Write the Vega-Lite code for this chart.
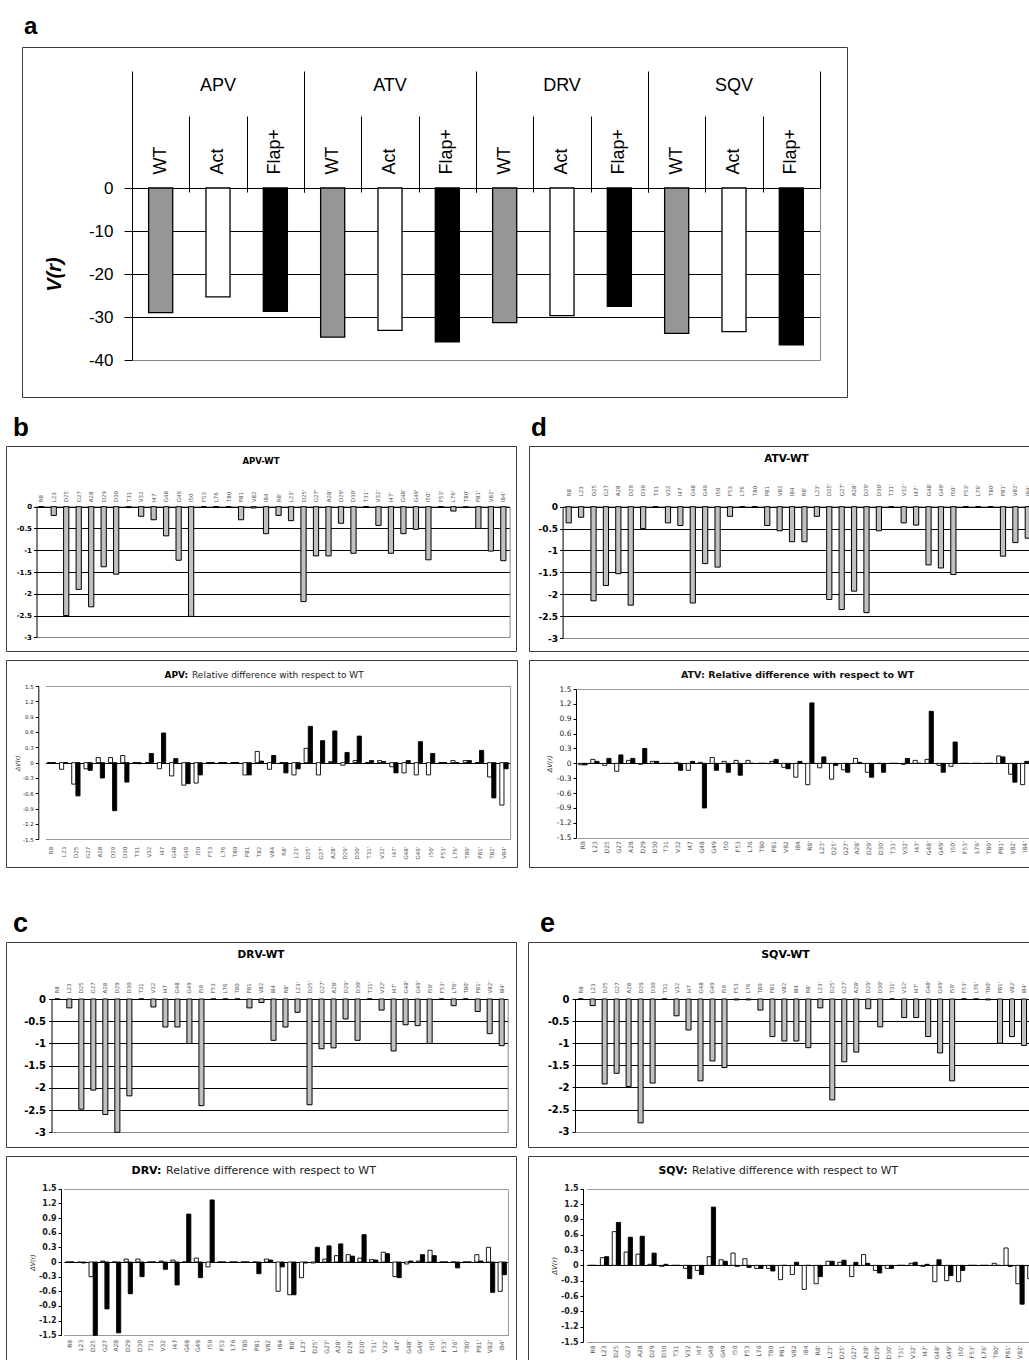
{
"$schema":"https://vega.github.io/schema/vega-lite/v6.json",
"background":"white",
"padding":{"left":5,"top":14,"right":0,"bottom":0},
"config":{"font":"DejaVu Sans","view":{"stroke":"#3c3c3c","strokeWidth":1},
"axis":{"domainColor":"black","tickColor":"black","labelColor":"#222","titleColor":"#222","labelFont":"DejaVu Sans","titleFont":"DejaVu Sans","domainWidth":1,"gridWidth":1,"tickWidth":1}},
"spacing":16,
"vconcat":[
{"spacing":14,"hconcat":[
 {"width":1,"height":350,"data":{"values":[]},"mark":"point","view":{"stroke":null}},
 {"width":825,"height":350,
  "title":{"text":"a","anchor":"start","frame":"group","dx":2,"offset":8,"font":"Liberation Sans","fontSize":24,"fontWeight":"bold","color":"black"},
  "data":{"values":[
   {"bar":"APV WT","variant":"WT","V":-29.0},{"bar":"APV Act","variant":"Act","V":-25.3},{"bar":"APV Flap+","variant":"Flap+","V":-28.7},
   {"bar":"ATV WT","variant":"WT","V":-34.7},{"bar":"ATV Act","variant":"Act","V":-33.1},{"bar":"ATV Flap+","variant":"Flap+","V":-35.8},
   {"bar":"DRV WT","variant":"WT","V":-31.3},{"bar":"DRV Act","variant":"Act","V":-29.7},{"bar":"DRV Flap+","variant":"Flap+","V":-27.5},
   {"bar":"SQV WT","variant":"WT","V":-33.8},{"bar":"SQV Act","variant":"Act","V":-33.4},{"bar":"SQV Flap+","variant":"Flap+","V":-36.5}]},
  "layer":[
   {"mark":{"type":"bar","stroke":"black","strokeWidth":1.3},
    "encoding":{
     "x":{"field":"bar","type":"nominal","sort":null,"scale":{"range":[110,798],"paddingInner":0.58,"paddingOuter":0.29},
      "axis":{"orient":"top","offset":-145,"domain":false,"ticks":false,"grid":false,"title":null,"labelAngle":270,"labelExpr":"split(datum.label,' ')[1]","labelFont":"Liberation Sans","labelFontSize":18,"labelColor":"black","labelPadding":18}},
     "y":{"field":"V","type":"quantitative","stack":null,"scale":{"domain":[-40,0],"range":[313,141],"nice":false},
      "axis":{"orient":"left","offset":-110,"values":[0,-10,-20,-30,-40],"labelExpr":"replace(format(datum.value,'~g'),'−','-')","labelFont":"Liberation Sans","labelFontSize":17,"labelColor":"black","tickSize":8,"labelPadding":11,"grid":true,"gridColor":{"condition":{"test":"datum.value === -40","value":"#888888"},"value":"black"},"title":"V(r)","titleFont":"Liberation Sans","titleFontSize":20,"titleFontWeight":"bold","titleFontStyle":"italic","titleColor":"black","titlePadding":24}},
     "fill":{"field":"variant","type":"nominal","scale":{"domain":["WT","Act","Flap+"],"range":["#969696","#ffffff","#000000"]},"legend":null}}},
   {"mark":{"type":"bar","opacity":0},
    "encoding":{"x":{"field":"bar","type":"nominal","sort":null,"axis":{"orient":"top","offset":-145,"domain":false,"labels":false,"grid":false,"title":null,"ticks":true,"bandPosition":0,"tickOffset":-16.63,"tickSize":76}},
     "y":{"field":"V","type":"quantitative","stack":null,"axis":null}}},
   {"mark":{"type":"bar","opacity":0},
    "encoding":{"x":{"field":"bar","type":"nominal","sort":null,"axis":{"orient":"top","offset":-145,"domain":false,"labels":false,"grid":false,"title":null,"ticks":true,"values":["APV WT","ATV WT","DRV WT","SQV WT"],"bandPosition":0,"tickOffset":-16.63,"tickSize":121}},
     "y":{"field":"V","type":"quantitative","stack":null,"axis":null}}},
   {"mark":{"type":"bar","opacity":0},
    "encoding":{"x":{"field":"bar","type":"nominal","sort":null,"axis":{"orient":"top","offset":-145,"domain":false,"ticks":false,"grid":false,"title":null,"values":["APV Act","ATV Act","DRV Act","SQV Act"],"labelExpr":"split(datum.label,' ')[0]","labelAngle":0,"labelFont":"Liberation Sans","labelFontSize":18,"labelColor":"black","labelPadding":98}},
     "y":{"field":"V","type":"quantitative","stack":null,"axis":null}}},
   {"mark":{"type":"bar","opacity":0},
    "encoding":{"x":{"field":"bar","type":"nominal","sort":null,"axis":{"orient":"top","offset":-145,"domain":false,"labels":false,"grid":false,"title":null,"ticks":true,"values":["SQV Flap+"],"bandPosition":1,"tickOffset":16.63,"tickSize":121}},
     "y":{"field":"V","type":"quantitative","stack":null,"axis":{"orient":"right","offset":-27,"labels":false,"ticks":false,"grid":false,"title":null,"domainColor":"#888888"}}}}
  ],
  "resolve":{"axis":{"x":"independent","y":"independent"}}}
]},
{"spacing":41,"vconcat":[
 {"spacing":10,"hconcat":[
  {"spacing":7,
   "title":{"text":"b","anchor":"start","frame":"group","dx":7,"offset":5,"font":"Liberation Sans","fontSize":26,"fontWeight":"bold","color":"black"},
   "vconcat":[
    {"width":510,"height":205,
     "title":{"text":"APV-WT","anchor":"middle","frame":"group","offset":-19,"font":"DejaVu Sans","fontSize":8.5,"fontWeight":"bold","color":"black"},
     "data":{"values":[
      {"res":"R8","V":0},{"res":"L23","V":-0.2},{"res":"D25","V":-2.5},{"res":"G27","V":-1.9},{"res":"A28","V":-2.3},{"res":"D29","V":-1.38},{"res":"D30","V":-1.55},{"res":"T31","V":-0.02},{"res":"V32","V":-0.22},{"res":"I47","V":-0.3},{"res":"G48","V":-0.67},{"res":"G49","V":-1.23},{"res":"I50","V":-2.52},{"res":"F53","V":0},{"res":"L76","V":0},{"res":"T80","V":0},{"res":"P81","V":-0.3},{"res":"V82","V":-0.03},{"res":"I84","V":-0.62},
      {"res":"R8'","V":-0.2},{"res":"L23'","V":-0.32},{"res":"D25'","V":-2.18},{"res":"G27'","V":-1.13},{"res":"A28'","V":-1.13},{"res":"D29'","V":-0.38},{"res":"D30'","V":-1.07},{"res":"T31'","V":0},{"res":"V32'","V":-0.43},{"res":"I47'","V":-1.07},{"res":"G48'","V":-0.62},{"res":"G49'","V":-0.52},{"res":"I50'","V":-1.22},{"res":"F53'","V":0},{"res":"L76'","V":-0.1},{"res":"T80'","V":-0.02},{"res":"P81'","V":-0.5},{"res":"V82'","V":-1.02},{"res":"I84'","V":-1.24}]},
     "layer":[
      {"mark":{"type":"bar","fill":"#c0c0c0","stroke":"black","strokeWidth":1},
       "encoding":{
        "x":{"field":"res","type":"nominal","sort":null,"scale":{"range":[29,503.6],"paddingInner":0.58,"paddingOuter":0.29},
         "axis":{"orient":"top","offset":-60.7,"labelAngle":270,"labelFontSize":5.5,"labelPadding":5,"labelColor":"#555","domain":true,"ticks":false,"grid":false,"title":null}},
        "y":{"field":"V","type":"quantitative","stack":null,"scale":{"domain":[-3,0],"range":[191.3,60.7],"nice":false},
         "axis":{"orient":"left","offset":-30.5,"values":[0,-0.5,-1,-1.5,-2,-2.5,-3],"labelExpr":"replace(format(datum.value,'~g'),'−','-')","labelFontSize":7,"labelFontWeight":"bold","labelColor":"black","tickSize":3,"labelPadding":2,"grid":true,"gridColor":{"condition":{"test":"datum.value === -3","value":"#888888"},"value":"black"},"title":null}}}},
      {"mark":{"type":"bar","opacity":0},
       "encoding":{"y":{"field":"V","type":"quantitative","stack":null,"axis":{"orient":"right","offset":-6.4,"labels":false,"ticks":false,"grid":false,"title":null,"domainColor":"#888888"}}}}],
     "resolve":{"axis":{"y":"independent"}}},
    {"width":511,"height":207,
     "title":{"text":"Relative difference with respect to WT","anchor":"start","frame":"group","dx":186,"offset":-20,"font":"DejaVu Sans","fontSize":9,"fontWeight":"normal","color":"#222"},
     "data":{"values":[
      {"res":"R8","Act":0,"Flap+":0},{"res":"L23","Act":-0.13,"Flap+":0},{"res":"D25","Act":-0.42,"Flap+":-0.65},{"res":"G27","Act":-0.12,"Flap+":-0.15},{"res":"A28","Act":0.1,"Flap+":-0.3},{"res":"D29","Act":0.1,"Flap+":-0.94},{"res":"D30","Act":0.14,"Flap+":-0.38},{"res":"T31","Act":0,"Flap+":-0.02},{"res":"V32","Act":0,"Flap+":0.18},{"res":"I47","Act":-0.12,"Flap+":0.58},{"res":"G48","Act":-0.26,"Flap+":0.08},{"res":"G49","Act":-0.44,"Flap+":-0.41},{"res":"I50","Act":-0.4,"Flap+":-0.24},{"res":"F53","Act":0,"Flap+":0},{"res":"L76","Act":0,"Flap+":0},{"res":"T80","Act":0,"Flap+":0},{"res":"P81","Act":-0.24,"Flap+":-0.24},{"res":"T82","Act":0.22,"Flap+":0.03},{"res":"V84","Act":-0.13,"Flap+":0.14},
      {"res":"R8'","Act":0,"Flap+":-0.2},{"res":"L23'","Act":-0.24,"Flap+":-0.12},{"res":"D25'","Act":0.28,"Flap+":0.71},{"res":"G27'","Act":-0.24,"Flap+":0.43},{"res":"A28'","Act":0.02,"Flap+":0.62},{"res":"D29'","Act":-0.05,"Flap+":0.2},{"res":"D30'","Act":0.04,"Flap+":0.52},{"res":"T31'","Act":0,"Flap+":0.04},{"res":"V32'","Act":0.04,"Flap+":0.02},{"res":"I47'","Act":-0.08,"Flap+":-0.2},{"res":"G48'","Act":-0.2,"Flap+":0.04},{"res":"G49'","Act":-0.24,"Flap+":0.41},{"res":"I50'","Act":-0.24,"Flap+":0.18},{"res":"F53'","Act":0,"Flap+":0},{"res":"L76'","Act":0.04,"Flap+":0},{"res":"T80'","Act":0.04,"Flap+":0.04},{"res":"P81'","Act":0,"Flap+":0.24},{"res":"T82'","Act":-0.28,"Flap+":-0.69},{"res":"V84'","Act":-0.83,"Flap+":-0.12}]},
     "transform":[{"fold":["Act","Flap+"],"as":["variant","dV"]}],
     "layer":[
      {"mark":{"type":"bar","stroke":"black","strokeWidth":0.9},
       "encoding":{
        "x":{"field":"res","type":"nominal","sort":null,"scale":{"range":[39.3,504.1],"paddingInner":0.32,"paddingOuter":0.16},
         "axis":{"orient":"bottom","offset":-27.7,"labelAngle":270,"labelFontSize":5.5,"labelPadding":7,"labelColor":"#555","domain":false,"ticks":false,"grid":false,"title":null}},
        "xOffset":{"field":"variant","type":"nominal","sort":["Act","Flap+"],"scale":{"paddingInner":0,"paddingOuter":0}},
        "y":{"field":"dV","type":"quantitative","stack":null,"scale":{"domain":[-1.5,1.5],"range":[179.3,26],"nice":false},
         "axis":{"orient":"left","offset":-32.3,"values":[-1.5,-1.2,-0.9,-0.6,-0.3,0,0.3,0.6,0.9,1.2,1.5],"labelExpr":"replace(format(datum.value,'.1~f'),'−','-')","labelFontSize":5.5,"tickSize":3,"labelPadding":2,"grid":true,"gridColor":{"condition":{"test":"datum.value === 0","value":"black"},"value":"#999999"},"gridOpacity":{"condition":{"test":"datum.value === 0 || abs(datum.value) === 1.5","value":1},"value":0},"title":"ΔV(r)","titleFontSize":6,"titleFontStyle":"italic","titleFontWeight":"normal","titlePadding":2}},
        "fill":{"field":"variant","type":"nominal","scale":{"domain":["Act","Flap+"],"range":["#ffffff","#000000"]},"legend":null}}},
      {"mark":{"type":"bar","opacity":0},
       "encoding":{
        "x":{"field":"res","type":"nominal","sort":null,"axis":{"orient":"top","offset":0,"domain":false,"labels":false,"ticks":false,"grid":false,"title":"APV:","titleX":158,"titleY":17.75,"titleAlign":"left","titleBaseline":"alphabetic","titleAngle":0,"titleFont":"DejaVu Sans","titleFontSize":9,"titleFontWeight":"bold","titleColor":"black"}},
        "y":{"field":"dV","type":"quantitative","stack":null,"axis":{"orient":"right","offset":-6.9,"labels":false,"ticks":false,"grid":false,"title":null,"domainColor":"#999999"}}}}],
     "resolve":{"axis":{"x":"independent","y":"independent"}}}
   ]},
  {"spacing":7,
   "title":{"text":"d","anchor":"start","frame":"group","dx":2,"offset":5,"font":"Liberation Sans","fontSize":26,"fontWeight":"bold","color":"black"},
   "vconcat":[
    {"width":515,"height":205,
     "title":{"text":"ATV-WT","anchor":"middle","frame":"group","offset":-18,"font":"DejaVu Sans","fontSize":10.5,"fontWeight":"bold","color":"black"},
     "data":{"values":[
      {"res":"R8","V":-0.37},{"res":"L23","V":-0.24},{"res":"D25","V":-2.15},{"res":"G27","V":-1.8},{"res":"A28","V":-1.53},{"res":"D29","V":-2.25},{"res":"D30","V":-0.5},{"res":"T31","V":0},{"res":"V32","V":-0.37},{"res":"I47","V":-0.43},{"res":"G48","V":-2.2},{"res":"G49","V":-1.3},{"res":"I50","V":-1.38},{"res":"F53","V":-0.22},{"res":"L76","V":0},{"res":"T80","V":0},{"res":"P81","V":-0.43},{"res":"V82","V":-0.55},{"res":"I84","V":-0.8},
      {"res":"R8'","V":-0.8},{"res":"L23'","V":-0.22},{"res":"D25'","V":-2.12},{"res":"G27'","V":-2.35},{"res":"A28'","V":-1.93},{"res":"D29'","V":-2.42},{"res":"D30'","V":-0.55},{"res":"T31'","V":0},{"res":"V32'","V":-0.37},{"res":"I47'","V":-0.42},{"res":"G48'","V":-1.33},{"res":"G49'","V":-1.4},{"res":"I50'","V":-1.55},{"res":"F53'","V":0},{"res":"L76'","V":0},{"res":"T80'","V":0},{"res":"P81'","V":-1.13},{"res":"V82'","V":-0.82},{"res":"I84'","V":-0.72}]},
     "layer":[
      {"mark":{"type":"bar","fill":"#c0c0c0","stroke":"black","strokeWidth":1},
       "encoding":{
        "x":{"field":"res","type":"nominal","sort":null,"scale":{"range":[33.5,505],"paddingInner":0.58,"paddingOuter":0.29},
         "axis":{"orient":"top","offset":-60.7,"labelAngle":270,"labelFontSize":5.5,"labelPadding":11,"labelColor":"#555","domain":true,"ticks":false,"grid":false,"title":null}},
        "y":{"field":"V","type":"quantitative","stack":null,"scale":{"domain":[-3,0],"range":[192,60.7],"nice":false},
         "axis":{"orient":"left","offset":-33.6,"values":[0,-0.5,-1,-1.5,-2,-2.5,-3],"labelExpr":"replace(format(datum.value,'~g'),'−','-')","labelFontSize":9,"labelFontWeight":"bold","labelColor":"black","tickSize":3,"labelPadding":2,"grid":true,"gridColor":{"condition":{"test":"datum.value === -3","value":"#888888"},"value":"black"},"title":null}}}},
      {"mark":{"type":"bar","opacity":0},
       "encoding":{"y":{"field":"V","type":"quantitative","stack":null,"axis":{"orient":"right","offset":-10,"labels":false,"ticks":false,"grid":false,"title":null,"domainColor":"#888888"}}}}],
     "resolve":{"axis":{"y":"independent"}}},
    {"width":515,"height":207,
     "title":{"text":"ATV: Relative difference with respect to WT","anchor":"start","frame":"group","dx":152,"offset":-19,"font":"DejaVu Sans","fontSize":9.5,"fontWeight":"bold","color":"#111"},
     "data":{"values":[
      {"res":"R8","Act":-0.03,"Flap+":-0.03},{"res":"L23","Act":0.08,"Flap+":0.04},{"res":"D25","Act":-0.04,"Flap+":0.1},{"res":"G27","Act":-0.16,"Flap+":0.17},{"res":"A28","Act":0.06,"Flap+":0.1},{"res":"D29","Act":-0.02,"Flap+":0.3},{"res":"D30","Act":0.04,"Flap+":0.04},{"res":"T31","Act":0,"Flap+":0},{"res":"V32","Act":0.02,"Flap+":-0.14},{"res":"I47","Act":-0.14,"Flap+":0.04},{"res":"G48","Act":0.02,"Flap+":-0.9},{"res":"G49","Act":0.12,"Flap+":-0.14},{"res":"I50","Act":0.04,"Flap+":-0.18},{"res":"F53","Act":0.06,"Flap+":-0.24},{"res":"L76","Act":0.06,"Flap+":0},{"res":"T80","Act":0,"Flap+":0},{"res":"P81","Act":0.04,"Flap+":0.08},{"res":"V82","Act":-0.08,"Flap+":-0.11},{"res":"I84","Act":-0.28,"Flap+":0.04},
      {"res":"R8'","Act":-0.43,"Flap+":1.22},{"res":"L23'","Act":-0.09,"Flap+":0.13},{"res":"D25'","Act":-0.32,"Flap+":-0.04},{"res":"G27'","Act":-0.13,"Flap+":-0.18},{"res":"A28'","Act":0.1,"Flap+":0.02},{"res":"D29'","Act":-0.18,"Flap+":-0.28},{"res":"D30'","Act":0,"Flap+":-0.18},{"res":"T31'","Act":0,"Flap+":0},{"res":"V32'","Act":-0.02,"Flap+":0.1},{"res":"I47'","Act":0.06,"Flap+":0},{"res":"G48'","Act":0.08,"Flap+":1.05},{"res":"G49'","Act":-0.04,"Flap+":-0.18},{"res":"I50'","Act":-0.06,"Flap+":0.43},{"res":"F53'","Act":0,"Flap+":0},{"res":"L76'","Act":0,"Flap+":0},{"res":"T80'","Act":0,"Flap+":0},{"res":"P81'","Act":0.15,"Flap+":0.13},{"res":"V82'","Act":-0.22,"Flap+":-0.38},{"res":"I84'","Act":-0.43,"Flap+":0.04}]},
     "transform":[{"fold":["Act","Flap+"],"as":["variant","dV"]}],
     "layer":[
      {"mark":{"type":"bar","stroke":"black","strokeWidth":0.9},
       "encoding":{
        "x":{"field":"res","type":"nominal","sort":null,"scale":{"range":[47.9,501.6],"paddingInner":0.32,"paddingOuter":0.16},
         "axis":{"orient":"bottom","offset":-29.3,"labelAngle":270,"labelFontSize":6,"labelPadding":3,"labelColor":"#555","domain":false,"ticks":false,"grid":false,"title":null}},
        "xOffset":{"field":"variant","type":"nominal","sort":["Act","Flap+"],"scale":{"paddingInner":0,"paddingOuter":0}},
        "y":{"field":"dV","type":"quantitative","stack":null,"scale":{"domain":[-1.5,1.5],"range":[177.7,29],"nice":false},
         "axis":{"orient":"left","offset":-47,"values":[-1.5,-1.2,-0.9,-0.6,-0.3,0,0.3,0.6,0.9,1.2,1.5],"labelExpr":"replace(format(datum.value,'.1~f'),'−','-')","labelFontSize":7.5,"tickSize":3,"labelPadding":2,"grid":true,"gridColor":{"condition":{"test":"datum.value === 0","value":"black"},"value":"#999999"},"gridOpacity":{"condition":{"test":"datum.value === 0 || abs(datum.value) === 1.5","value":1},"value":0},"title":"ΔV(r)","titleFontSize":6.5,"titleFontStyle":"italic","titleFontWeight":"normal","titlePadding":4}},
        "fill":{"field":"variant","type":"nominal","scale":{"domain":["Act","Flap+"],"range":["#ffffff","#000000"]},"legend":null}}},
      {"mark":{"type":"bar","opacity":0},
       "encoding":{"y":{"field":"dV","type":"quantitative","stack":null,"axis":{"orient":"right","offset":-13.4,"labels":false,"ticks":false,"grid":false,"title":null,"domainColor":"#999999"}}}}],
     "resolve":{"axis":{"y":"independent"}}}
   ]}
 ]},
 {"spacing":10,"hconcat":[
  {"spacing":7,
   "title":{"text":"c","anchor":"start","frame":"group","dx":7,"offset":4,"font":"Liberation Sans","fontSize":27,"fontWeight":"bold","color":"black"},
   "vconcat":[
    {"width":510,"height":205,
     "title":{"text":"DRV-WT","anchor":"middle","frame":"group","offset":-18,"font":"DejaVu Sans","fontSize":10.5,"fontWeight":"bold","color":"black"},
     "data":{"values":[
      {"res":"R8","V":0},{"res":"L23","V":-0.2},{"res":"D25","V":-2.48},{"res":"G27","V":-2.05},{"res":"A28","V":-2.6},{"res":"D29","V":-3.0},{"res":"D30","V":-2.18},{"res":"T31","V":0},{"res":"V32","V":-0.18},{"res":"I47","V":-0.63},{"res":"G48","V":-0.63},{"res":"G49","V":-1.0},{"res":"I50","V":-2.4},{"res":"F53","V":0},{"res":"L76","V":0},{"res":"T80","V":0},{"res":"P81","V":-0.2},{"res":"V82","V":-0.08},{"res":"I84","V":-0.93},
      {"res":"R8'","V":-0.63},{"res":"L23'","V":-0.3},{"res":"D25'","V":-2.38},{"res":"G27'","V":-1.12},{"res":"A28'","V":-1.1},{"res":"D29'","V":-0.45},{"res":"D30'","V":-0.93},{"res":"T31'","V":0},{"res":"V32'","V":-0.25},{"res":"I47'","V":-1.17},{"res":"G48'","V":-0.58},{"res":"G49'","V":-0.6},{"res":"I50'","V":-1.0},{"res":"F53'","V":0},{"res":"L76'","V":-0.15},{"res":"T80'","V":0},{"res":"P81'","V":-0.28},{"res":"V82'","V":-0.78},{"res":"I84'","V":-1.05}]},
     "layer":[
      {"mark":{"type":"bar","fill":"#c0c0c0","stroke":"black","strokeWidth":1},
       "encoding":{
        "x":{"field":"res","type":"nominal","sort":null,"scale":{"range":[45.3,501.7],"paddingInner":0.58,"paddingOuter":0.29},
         "axis":{"orient":"top","offset":-57,"labelAngle":270,"labelFontSize":5.5,"labelPadding":6,"labelColor":"#555","domain":true,"ticks":false,"grid":false,"title":null}},
        "y":{"field":"V","type":"quantitative","stack":null,"scale":{"domain":[-3,0],"range":[190.3,57],"nice":false},
         "axis":{"orient":"left","offset":-45.5,"values":[0,-0.5,-1,-1.5,-2,-2.5,-3],"labelExpr":"replace(format(datum.value,'~g'),'−','-')","labelFontSize":10,"labelFontWeight":"bold","labelColor":"black","tickSize":3,"labelPadding":3,"grid":true,"gridColor":{"condition":{"test":"datum.value === -3","value":"#888888"},"value":"black"},"title":null}}}},
      {"mark":{"type":"bar","opacity":0},
       "encoding":{"y":{"field":"V","type":"quantitative","stack":null,"axis":{"orient":"right","offset":-8.3,"labels":false,"ticks":false,"grid":false,"title":null,"domainColor":"#888888"}}}}],
     "resolve":{"axis":{"y":"independent"}}},
    {"width":510,"height":215,
     "title":{"text":"Relative difference with respect to WT","anchor":"start","frame":"group","dx":160,"offset":-20,"font":"DejaVu Sans","fontSize":11,"fontWeight":"normal","color":"#222"},
     "data":{"values":[
      {"res":"R8","Act":0,"Flap+":0},{"res":"L23","Act":-0.01,"Flap+":-0.02},{"res":"D25","Act":-0.3,"Flap+":-1.5},{"res":"G27","Act":0.02,"Flap+":-0.96},{"res":"A28","Act":0,"Flap+":-1.45},{"res":"D29","Act":0.06,"Flap+":-0.65},{"res":"D30","Act":0.06,"Flap+":-0.3},{"res":"T31","Act":0,"Flap+":0},{"res":"V32","Act":0.02,"Flap+":-0.15},{"res":"I47","Act":0.04,"Flap+":-0.47},{"res":"G48","Act":0,"Flap+":0.98},{"res":"G49","Act":0.08,"Flap+":-0.32},{"res":"I50","Act":-0.1,"Flap+":1.27},{"res":"F53","Act":0,"Flap+":0},{"res":"L76","Act":0,"Flap+":0},{"res":"T80","Act":0,"Flap+":0},{"res":"P81","Act":0,"Flap+":-0.24},{"res":"V82","Act":0.06,"Flap+":0.04},{"res":"I84","Act":-0.6,"Flap+":-0.1},
      {"res":"R8'","Act":-0.67,"Flap+":-0.67},{"res":"L23'","Act":-0.32,"Flap+":-0.02},{"res":"D25'","Act":-0.02,"Flap+":0.3},{"res":"G27'","Act":0.06,"Flap+":0.33},{"res":"A28'","Act":0.13,"Flap+":0.37},{"res":"D29'","Act":0.15,"Flap+":0.12},{"res":"D30'","Act":0.08,"Flap+":0.56},{"res":"T31'","Act":0.05,"Flap+":0.04},{"res":"V32'","Act":0.2,"Flap+":0.17},{"res":"I47'","Act":-0.3,"Flap+":-0.32},{"res":"G48'","Act":-0.04,"Flap+":0.02},{"res":"G49'","Act":0.02,"Flap+":0.15},{"res":"I50'","Act":0.24,"Flap+":0.13},{"res":"F53'","Act":0,"Flap+":0},{"res":"L76'","Act":0,"Flap+":-0.12},{"res":"T80'","Act":0,"Flap+":0},{"res":"P81'","Act":0.15,"Flap+":0.02},{"res":"V82'","Act":0.3,"Flap+":-0.62},{"res":"I84'","Act":-0.6,"Flap+":-0.26}]},
     "transform":[{"fold":["Act","Flap+"],"as":["variant","dV"]}],
     "layer":[
      {"mark":{"type":"bar","stroke":"black","strokeWidth":0.9},
       "encoding":{
        "x":{"field":"res","type":"nominal","sort":null,"scale":{"range":[57.8,501.9],"paddingInner":0.32,"paddingOuter":0.16},
         "axis":{"orient":"bottom","offset":-35.7,"labelAngle":270,"labelFontSize":6,"labelPadding":4,"labelColor":"#555","domain":false,"ticks":false,"grid":false,"title":null}},
        "xOffset":{"field":"variant","type":"nominal","sort":["Act","Flap+"],"scale":{"paddingInner":0,"paddingOuter":0}},
        "y":{"field":"dV","type":"quantitative","stack":null,"scale":{"domain":[-1.5,1.5],"range":[179.3,32.7],"nice":false},
         "axis":{"orient":"left","offset":-55,"values":[-1.5,-1.2,-0.9,-0.6,-0.3,0,0.3,0.6,0.9,1.2,1.5],"labelExpr":"replace(format(datum.value,'.1~f'),'−','-')","labelFontSize":8,"labelFontWeight":"bold","tickSize":3,"labelPadding":2,"grid":true,"gridColor":{"condition":{"test":"datum.value === 0","value":"black"},"value":"#999999"},"gridOpacity":{"condition":{"test":"datum.value === 0 || abs(datum.value) === 1.5","value":1},"value":0},"title":"ΔV(r)","titleFontSize":6.5,"titleFontStyle":"italic","titleFontWeight":"normal","titlePadding":3}},
        "fill":{"field":"variant","type":"nominal","scale":{"domain":["Act","Flap+"],"range":["#ffffff","#000000"]},"legend":null}}},
      {"mark":{"type":"bar","opacity":0},
       "encoding":{
        "x":{"field":"res","type":"nominal","sort":null,"axis":{"orient":"top","offset":0,"domain":false,"labels":false,"ticks":false,"grid":false,"title":"DRV:","titleX":125,"titleY":17.25,"titleAlign":"left","titleBaseline":"alphabetic","titleAngle":0,"titleFont":"DejaVu Sans","titleFontSize":11,"titleFontWeight":"bold","titleColor":"black"}},
        "y":{"field":"dV","type":"quantitative","stack":null,"axis":{"orient":"right","offset":-8.1,"labels":false,"ticks":false,"grid":false,"title":null,"domainColor":"#999999"}}}}],
     "resolve":{"axis":{"x":"independent","y":"independent"}}}
   ]},
  {"spacing":7,
   "title":{"text":"e","anchor":"start","frame":"group","dx":12,"offset":4,"font":"Liberation Sans","fontSize":27,"fontWeight":"bold","color":"black"},
   "vconcat":[
    {"width":515,"height":205,
     "title":{"text":"SQV-WT","anchor":"middle","frame":"group","offset":-18,"font":"DejaVu Sans","fontSize":11,"fontWeight":"bold","color":"black"},
     "data":{"values":[
      {"res":"R8","V":0},{"res":"L23","V":-0.15},{"res":"D25","V":-1.92},{"res":"G27","V":-1.68},{"res":"A28","V":-1.98},{"res":"D29","V":-2.8},{"res":"D30","V":-1.9},{"res":"T31","V":0},{"res":"V32","V":-0.38},{"res":"I47","V":-0.7},{"res":"G48","V":-1.85},{"res":"G49","V":-1.4},{"res":"I50","V":-1.55},{"res":"F53","V":-0.02},{"res":"L76","V":-0.02},{"res":"T80","V":-0.25},{"res":"P81","V":-0.85},{"res":"V82","V":-0.95},{"res":"I84","V":-0.95},
      {"res":"R8'","V":-1.1},{"res":"L23'","V":-0.2},{"res":"D25'","V":-2.28},{"res":"G27'","V":-1.42},{"res":"A28'","V":-1.2},{"res":"D29'","V":-0.22},{"res":"D30'","V":-0.63},{"res":"T31'","V":0},{"res":"V32'","V":-0.42},{"res":"I47'","V":-0.42},{"res":"G48'","V":-0.85},{"res":"G49'","V":-1.22},{"res":"I50'","V":-1.85},{"res":"F53'","V":0},{"res":"L76'","V":0},{"res":"T80'","V":-0.02},{"res":"P81'","V":-1.0},{"res":"V82'","V":-0.85},{"res":"I84'","V":-1.05}]},
     "layer":[
      {"mark":{"type":"bar","fill":"#c0c0c0","stroke":"black","strokeWidth":1},
       "encoding":{
        "x":{"field":"res","type":"nominal","sort":null,"scale":{"range":[46.7,502],"paddingInner":0.58,"paddingOuter":0.29},
         "axis":{"orient":"top","offset":-57,"labelAngle":270,"labelFontSize":5.5,"labelPadding":6,"labelColor":"#555","domain":true,"ticks":false,"grid":false,"title":null}},
        "y":{"field":"V","type":"quantitative","stack":null,"scale":{"domain":[-3,0],"range":[189.7,57],"nice":false},
         "axis":{"orient":"left","offset":-47,"values":[0,-0.5,-1,-1.5,-2,-2.5,-3],"labelExpr":"replace(format(datum.value,'~g'),'−','-')","labelFontSize":10,"labelFontWeight":"bold","labelColor":"black","tickSize":3,"labelPadding":3,"grid":true,"gridColor":{"condition":{"test":"datum.value === -3","value":"#888888"},"value":"black"},"title":null}}}},
      {"mark":{"type":"bar","opacity":0},
       "encoding":{"y":{"field":"V","type":"quantitative","stack":null,"axis":{"orient":"right","offset":-13,"labels":false,"ticks":false,"grid":false,"title":null,"domainColor":"#888888"}}}}],
     "resolve":{"axis":{"y":"independent"}}},
    {"width":520,"height":215,
     "title":{"text":"Relative difference with respect to WT","anchor":"start","frame":"group","dx":164,"offset":-20,"font":"DejaVu Sans","fontSize":10.8,"fontWeight":"normal","color":"#222"},
     "data":{"values":[
      {"res":"R8","Act":0,"Flap+":0},{"res":"L23","Act":0.15,"Flap+":0.17},{"res":"D25","Act":0.66,"Flap+":0.84},{"res":"G27","Act":0.26,"Flap+":0.55},{"res":"A28","Act":0.22,"Flap+":0.57},{"res":"D29","Act":0.02,"Flap+":0.24},{"res":"D30","Act":-0.02,"Flap+":0.02},{"res":"T31","Act":0,"Flap+":0},{"res":"V32","Act":-0.06,"Flap+":-0.26},{"res":"I47","Act":-0.1,"Flap+":-0.18},{"res":"G48","Act":0.17,"Flap+":1.14},{"res":"G49","Act":0.11,"Flap+":0.08},{"res":"I50","Act":0.24,"Flap+":-0.02},{"res":"F53","Act":0.13,"Flap+":-0.04},{"res":"L76","Act":-0.06,"Flap+":-0.06},{"res":"T80","Act":-0.06,"Flap+":-0.11},{"res":"P81","Act":-0.28,"Flap+":0},{"res":"V82","Act":-0.18,"Flap+":0.06},{"res":"I84","Act":-0.47,"Flap+":0},
      {"res":"R8'","Act":-0.36,"Flap+":-0.22},{"res":"L23'","Act":0.08,"Flap+":0.08},{"res":"D25'","Act":0.06,"Flap+":0.1},{"res":"G27'","Act":-0.22,"Flap+":0.06},{"res":"A28'","Act":0.21,"Flap+":0.04},{"res":"D29'","Act":-0.1,"Flap+":-0.15},{"res":"D30'","Act":-0.06,"Flap+":-0.06},{"res":"T31'","Act":0,"Flap+":0},{"res":"V32'","Act":0.04,"Flap+":0.06},{"res":"I47'","Act":-0.02,"Flap+":0.02},{"res":"G48'","Act":-0.32,"Flap+":0.11},{"res":"G49'","Act":-0.3,"Flap+":-0.2},{"res":"I50'","Act":-0.32,"Flap+":-0.1},{"res":"F53'","Act":0,"Flap+":0},{"res":"L76'","Act":0,"Flap+":0},{"res":"T80'","Act":0.04,"Flap+":0},{"res":"P81'","Act":0.34,"Flap+":-0.02},{"res":"V82'","Act":-0.36,"Flap+":-0.76},{"res":"I84'","Act":-0.26,"Flap+":-0.1}]},
     "transform":[{"fold":["Act","Flap+"],"as":["variant","dV"]}],
     "layer":[
      {"mark":{"type":"bar","stroke":"black","strokeWidth":0.9},
       "encoding":{
        "x":{"field":"res","type":"nominal","sort":null,"scale":{"range":[58.6,509.7],"paddingInner":0.32,"paddingOuter":0.16},
         "axis":{"orient":"bottom","offset":-29,"labelAngle":270,"labelFontSize":6,"labelPadding":3,"labelColor":"#555","domain":false,"ticks":false,"grid":false,"title":null}},
        "xOffset":{"field":"variant","type":"nominal","sort":["Act","Flap+"],"scale":{"paddingInner":0,"paddingOuter":0}},
        "y":{"field":"dV","type":"quantitative","stack":null,"scale":{"domain":[-1.5,1.5],"range":[186,32.7],"nice":false},
         "axis":{"orient":"left","offset":-55,"values":[-1.5,-1.2,-0.9,-0.6,-0.3,0,0.3,0.6,0.9,1.2,1.5],"labelExpr":"replace(format(datum.value,'.1~f'),'−','-')","labelFontSize":8,"labelFontWeight":"bold","tickSize":3,"labelPadding":2,"grid":true,"gridColor":{"condition":{"test":"datum.value === 0","value":"black"},"value":"#999999"},"gridOpacity":{"condition":{"test":"datum.value === 0 || abs(datum.value) === 1.5","value":1},"value":0},"title":"ΔV(r)","titleFontSize":7,"titleFontStyle":"italic","titleFontWeight":"normal","titlePadding":3}},
        "fill":{"field":"variant","type":"nominal","scale":{"domain":["Act","Flap+"],"range":["#ffffff","#000000"]},"legend":null}}},
      {"mark":{"type":"bar","opacity":0},
       "encoding":{
        "x":{"field":"res","type":"nominal","sort":null,"axis":{"orient":"top","offset":0,"domain":false,"labels":false,"ticks":false,"grid":false,"title":"SQV:","titleX":130,"titleY":17.3,"titleAlign":"left","titleBaseline":"alphabetic","titleAngle":0,"titleFont":"DejaVu Sans","titleFontSize":10.8,"titleFontWeight":"bold","titleColor":"black"}},
        "y":{"field":"dV","type":"quantitative","stack":null,"axis":{"orient":"right","offset":-10.3,"labels":false,"ticks":false,"grid":false,"title":null,"domainColor":"#999999"}}}}],
     "resolve":{"axis":{"x":"independent","y":"independent"}}}
   ]}
 ]}
]}
]}
